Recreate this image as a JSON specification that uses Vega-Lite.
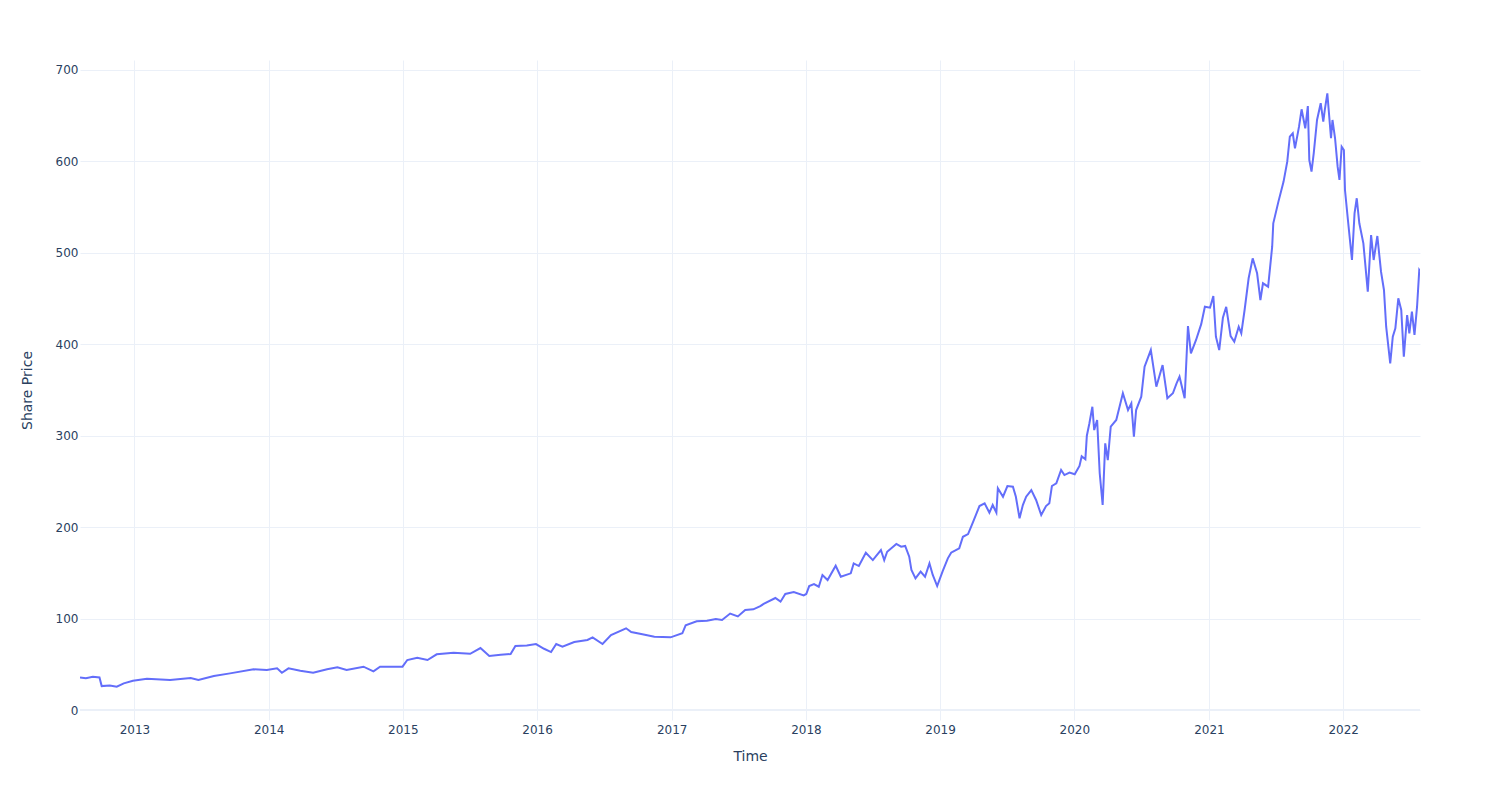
{
  "$schema": "https://vega.github.io/schema/vega-lite/v6.json",
  "width": 1340,
  "height": 660,
  "autosize": {"type": "none"},
  "padding": {"left": 80, "top": 60, "right": 80, "bottom": 80},
  "background": "white",
  "config": {
    "view": {"stroke": null},
    "font": "DejaVu Sans",
    "axis": {
      "labelFont": "DejaVu Sans",
      "titleFont": "DejaVu Sans",
      "labelFontSize": 12,
      "titleFontSize": 14,
      "labelColor": "#2a3f5f",
      "titleColor": "#2a3f5f",
      "titleFontWeight": "normal",
      "grid": true,
      "gridColor": "#EBF0F8",
      "gridWidth": 1,
      "gridOpacity": 1,
      "domain": false,
      "ticks": false,
      "tickSize": 0
    }
  },
  "data": {
    "values": [
      {"date": "2012-08-06", "price": 35.7},
      {"date": "2012-08-22", "price": 34.8},
      {"date": "2012-09-10", "price": 36.4},
      {"date": "2012-09-28", "price": 35.7},
      {"date": "2012-10-04", "price": 26.2},
      {"date": "2012-10-26", "price": 26.9},
      {"date": "2012-11-14", "price": 25.5},
      {"date": "2012-12-03", "price": 29.2},
      {"date": "2012-12-28", "price": 32.1},
      {"date": "2013-02-04", "price": 34.3},
      {"date": "2013-04-08", "price": 32.8},
      {"date": "2013-06-03", "price": 35.0},
      {"date": "2013-06-24", "price": 32.8},
      {"date": "2013-08-05", "price": 37.2},
      {"date": "2013-09-18", "price": 40.1},
      {"date": "2013-11-21", "price": 44.5},
      {"date": "2013-12-27", "price": 43.8},
      {"date": "2014-01-24", "price": 45.6},
      {"date": "2014-02-06", "price": 40.8},
      {"date": "2014-02-24", "price": 45.6},
      {"date": "2014-03-28", "price": 43.0},
      {"date": "2014-05-02", "price": 40.8},
      {"date": "2014-06-09", "price": 44.5},
      {"date": "2014-07-07", "price": 46.7},
      {"date": "2014-08-01", "price": 43.8},
      {"date": "2014-09-16", "price": 47.4},
      {"date": "2014-10-13", "price": 42.3},
      {"date": "2014-10-31", "price": 47.4},
      {"date": "2014-12-31", "price": 47.4},
      {"date": "2015-01-13", "price": 54.7},
      {"date": "2015-02-09", "price": 57.2},
      {"date": "2015-03-09", "price": 54.7},
      {"date": "2015-04-03", "price": 60.9},
      {"date": "2015-05-19", "price": 62.7},
      {"date": "2015-07-03", "price": 61.5},
      {"date": "2015-07-31", "price": 67.8},
      {"date": "2015-08-24", "price": 59.1},
      {"date": "2015-09-24", "price": 60.5},
      {"date": "2015-10-21", "price": 61.2},
      {"date": "2015-11-03", "price": 70.0},
      {"date": "2015-12-04", "price": 70.7},
      {"date": "2015-12-29", "price": 72.2},
      {"date": "2016-01-20", "price": 67.0},
      {"date": "2016-02-08", "price": 63.4},
      {"date": "2016-02-22", "price": 72.2},
      {"date": "2016-03-10", "price": 69.2},
      {"date": "2016-04-11", "price": 74.4},
      {"date": "2016-05-17", "price": 76.6},
      {"date": "2016-05-31", "price": 79.5},
      {"date": "2016-06-27", "price": 72.2},
      {"date": "2016-07-20", "price": 82.0},
      {"date": "2016-08-30", "price": 89.4},
      {"date": "2016-09-13", "price": 85.3},
      {"date": "2016-10-10", "price": 83.1},
      {"date": "2016-11-15", "price": 80.2},
      {"date": "2016-12-29", "price": 79.5},
      {"date": "2017-01-30", "price": 83.9},
      {"date": "2017-02-08", "price": 92.6},
      {"date": "2017-03-10", "price": 97.0},
      {"date": "2017-04-07", "price": 97.7},
      {"date": "2017-05-01", "price": 99.5},
      {"date": "2017-05-18", "price": 98.4},
      {"date": "2017-06-09", "price": 105.5},
      {"date": "2017-06-30", "price": 102.4},
      {"date": "2017-07-20", "price": 109.4},
      {"date": "2017-08-11", "price": 110.1},
      {"date": "2017-08-30", "price": 113.7},
      {"date": "2017-09-08", "price": 116.0},
      {"date": "2017-10-10", "price": 122.5},
      {"date": "2017-10-24", "price": 118.5},
      {"date": "2017-11-06", "price": 126.9},
      {"date": "2017-11-29", "price": 129.1},
      {"date": "2017-12-26", "price": 125.4},
      {"date": "2018-01-02", "price": 126.9},
      {"date": "2018-01-10", "price": 135.6},
      {"date": "2018-01-23", "price": 137.8},
      {"date": "2018-02-05", "price": 134.9},
      {"date": "2018-02-15", "price": 147.7},
      {"date": "2018-03-01", "price": 142.2},
      {"date": "2018-03-23", "price": 157.8},
      {"date": "2018-04-06", "price": 145.8},
      {"date": "2018-05-03", "price": 149.5},
      {"date": "2018-05-11", "price": 160.4},
      {"date": "2018-05-25", "price": 157.5},
      {"date": "2018-06-13", "price": 172.0},
      {"date": "2018-07-02", "price": 164.0},
      {"date": "2018-07-24", "price": 175.0},
      {"date": "2018-08-02", "price": 164.0},
      {"date": "2018-08-10", "price": 173.1},
      {"date": "2018-09-04", "price": 181.6},
      {"date": "2018-09-17", "price": 178.6},
      {"date": "2018-09-28", "price": 179.4},
      {"date": "2018-10-09", "price": 167.7},
      {"date": "2018-10-15", "price": 153.1},
      {"date": "2018-10-26", "price": 144.0},
      {"date": "2018-11-09", "price": 151.3},
      {"date": "2018-11-21", "price": 145.8},
      {"date": "2018-12-03", "price": 160.4},
      {"date": "2018-12-12", "price": 147.7},
      {"date": "2018-12-24", "price": 135.6},
      {"date": "2019-01-08", "price": 152.0},
      {"date": "2019-01-22", "price": 165.9},
      {"date": "2019-01-31", "price": 172.0},
      {"date": "2019-02-04", "price": 173.1},
      {"date": "2019-02-22", "price": 176.8},
      {"date": "2019-03-04", "price": 189.5},
      {"date": "2019-03-18", "price": 192.5},
      {"date": "2019-04-01", "price": 206.0},
      {"date": "2019-04-18", "price": 223.1},
      {"date": "2019-05-02", "price": 226.1},
      {"date": "2019-05-15", "price": 215.8},
      {"date": "2019-05-24", "price": 224.2},
      {"date": "2019-06-03", "price": 215.8},
      {"date": "2019-06-07", "price": 242.5},
      {"date": "2019-06-21", "price": 233.3},
      {"date": "2019-07-03", "price": 245.0},
      {"date": "2019-07-18", "price": 244.2},
      {"date": "2019-07-26", "price": 233.3},
      {"date": "2019-08-05", "price": 209.7},
      {"date": "2019-08-14", "price": 224.2},
      {"date": "2019-08-23", "price": 233.3},
      {"date": "2019-09-06", "price": 240.6},
      {"date": "2019-09-19", "price": 229.7},
      {"date": "2019-10-03", "price": 213.3},
      {"date": "2019-10-16", "price": 223.1},
      {"date": "2019-10-25", "price": 226.1},
      {"date": "2019-11-01", "price": 245.0},
      {"date": "2019-11-13", "price": 248.0},
      {"date": "2019-11-26", "price": 262.5},
      {"date": "2019-12-05", "price": 257.0},
      {"date": "2019-12-19", "price": 259.6},
      {"date": "2020-01-02", "price": 257.8},
      {"date": "2020-01-15", "price": 266.9},
      {"date": "2020-01-21", "price": 277.5},
      {"date": "2020-01-31", "price": 274.2},
      {"date": "2020-02-04", "price": 300.0},
      {"date": "2020-02-11", "price": 313.6},
      {"date": "2020-02-19", "price": 331.7},
      {"date": "2020-02-24", "price": 306.2},
      {"date": "2020-03-03", "price": 317.2},
      {"date": "2020-03-10", "price": 258.9},
      {"date": "2020-03-18", "price": 224.2},
      {"date": "2020-03-25", "price": 291.7},
      {"date": "2020-04-01", "price": 273.4},
      {"date": "2020-04-09", "price": 309.9},
      {"date": "2020-04-24", "price": 317.2},
      {"date": "2020-05-12", "price": 346.4},
      {"date": "2020-05-26", "price": 328.1},
      {"date": "2020-06-04", "price": 335.4},
      {"date": "2020-06-11", "price": 298.9},
      {"date": "2020-06-17", "price": 328.1},
      {"date": "2020-07-01", "price": 342.7},
      {"date": "2020-07-10", "price": 375.5},
      {"date": "2020-07-27", "price": 393.7},
      {"date": "2020-08-11", "price": 353.6},
      {"date": "2020-08-28", "price": 377.3},
      {"date": "2020-09-10", "price": 340.9},
      {"date": "2020-09-25", "price": 346.4},
      {"date": "2020-10-05", "price": 357.3},
      {"date": "2020-10-13", "price": 364.6},
      {"date": "2020-10-27", "price": 340.9},
      {"date": "2020-11-05", "price": 420.0},
      {"date": "2020-11-13", "price": 390.1},
      {"date": "2020-11-27", "price": 404.7},
      {"date": "2020-12-11", "price": 422.0},
      {"date": "2020-12-21", "price": 441.1},
      {"date": "2021-01-04", "price": 440.0},
      {"date": "2021-01-13", "price": 452.8},
      {"date": "2021-01-20", "price": 408.3},
      {"date": "2021-01-29", "price": 393.7},
      {"date": "2021-02-08", "price": 429.0},
      {"date": "2021-02-17", "price": 441.0},
      {"date": "2021-03-01", "price": 409.0},
      {"date": "2021-03-11", "price": 402.8},
      {"date": "2021-03-23", "price": 419.2},
      {"date": "2021-03-30", "price": 412.0},
      {"date": "2021-04-08", "price": 437.5},
      {"date": "2021-04-19", "price": 472.2},
      {"date": "2021-04-30", "price": 494.0},
      {"date": "2021-05-12", "price": 477.6},
      {"date": "2021-05-21", "price": 448.4},
      {"date": "2021-05-28", "price": 466.7},
      {"date": "2021-06-11", "price": 463.0},
      {"date": "2021-06-22", "price": 506.7},
      {"date": "2021-06-25", "price": 532.3},
      {"date": "2021-07-09", "price": 556.0},
      {"date": "2021-07-23", "price": 577.9},
      {"date": "2021-08-02", "price": 599.7},
      {"date": "2021-08-09", "price": 627.0},
      {"date": "2021-08-17", "price": 630.7},
      {"date": "2021-08-23", "price": 614.3},
      {"date": "2021-09-03", "price": 638.0},
      {"date": "2021-09-10", "price": 657.0},
      {"date": "2021-09-20", "price": 636.2},
      {"date": "2021-09-27", "price": 660.6},
      {"date": "2021-10-01", "price": 601.5},
      {"date": "2021-10-07", "price": 588.8},
      {"date": "2021-10-13", "price": 608.9},
      {"date": "2021-10-22", "price": 645.3},
      {"date": "2021-11-01", "price": 663.6},
      {"date": "2021-11-08", "price": 643.5},
      {"date": "2021-11-12", "price": 656.2},
      {"date": "2021-11-19", "price": 674.5},
      {"date": "2021-11-29", "price": 625.3},
      {"date": "2021-12-03", "price": 645.3},
      {"date": "2021-12-10", "price": 625.3},
      {"date": "2021-12-17", "price": 594.2},
      {"date": "2021-12-22", "price": 579.7},
      {"date": "2021-12-28", "price": 616.1},
      {"date": "2022-01-03", "price": 612.5},
      {"date": "2022-01-06", "price": 568.7},
      {"date": "2022-01-14", "price": 535.9},
      {"date": "2022-01-25", "price": 492.2},
      {"date": "2022-02-01", "price": 543.2},
      {"date": "2022-02-07", "price": 559.7},
      {"date": "2022-02-14", "price": 532.3},
      {"date": "2022-02-25", "price": 510.4},
      {"date": "2022-03-09", "price": 457.5},
      {"date": "2022-03-18", "price": 519.5},
      {"date": "2022-03-25", "price": 492.2},
      {"date": "2022-04-04", "price": 518.4},
      {"date": "2022-04-14", "price": 479.4},
      {"date": "2022-04-22", "price": 459.4},
      {"date": "2022-04-28", "price": 419.2},
      {"date": "2022-05-09", "price": 379.2},
      {"date": "2022-05-16", "price": 408.3},
      {"date": "2022-05-23", "price": 417.5},
      {"date": "2022-05-31", "price": 450.3},
      {"date": "2022-06-08", "price": 437.5},
      {"date": "2022-06-15", "price": 386.4},
      {"date": "2022-06-24", "price": 432.0},
      {"date": "2022-06-30", "price": 412.0},
      {"date": "2022-07-07", "price": 435.6},
      {"date": "2022-07-14", "price": 410.2},
      {"date": "2022-07-21", "price": 441.1},
      {"date": "2022-07-27", "price": 481.2},
      {"date": "2022-07-29", "price": 480.0}
    ]
  },
  "layer": [
    {
      "mark": {"type": "rule", "color": "#EBF0F8", "strokeWidth": 2},
      "encoding": {"y": {"datum": 0, "type": "quantitative"}}
    },
    {
      "mark": {"type": "line", "color": "#636efa", "strokeWidth": 2, "clip": true},
      "encoding": {
        "x": {
          "field": "date",
          "type": "temporal",
          "scale": {"type": "utc"},
          "axis": {
            "title": "Time",
            "grid": true,
            "format": "%Y",
            "tickCount": {"interval": "year", "step": 1},
            "labelPadding": 4,
            "titlePadding": 14,
            "labelFlush": false,
            "labelOverlap": false
          }
        },
        "y": {
          "field": "price",
          "type": "quantitative",
          "scale": {"domain": [-10.9, 710.9], "nice": false, "zero": false},
          "axis": {
            "title": "Share Price",
            "grid": true,
            "values": [0, 100, 200, 300, 400, 500, 600, 700],
            "labelPadding": 2,
            "titlePadding": 21
          }
        }
      }
    }
  ]
}
